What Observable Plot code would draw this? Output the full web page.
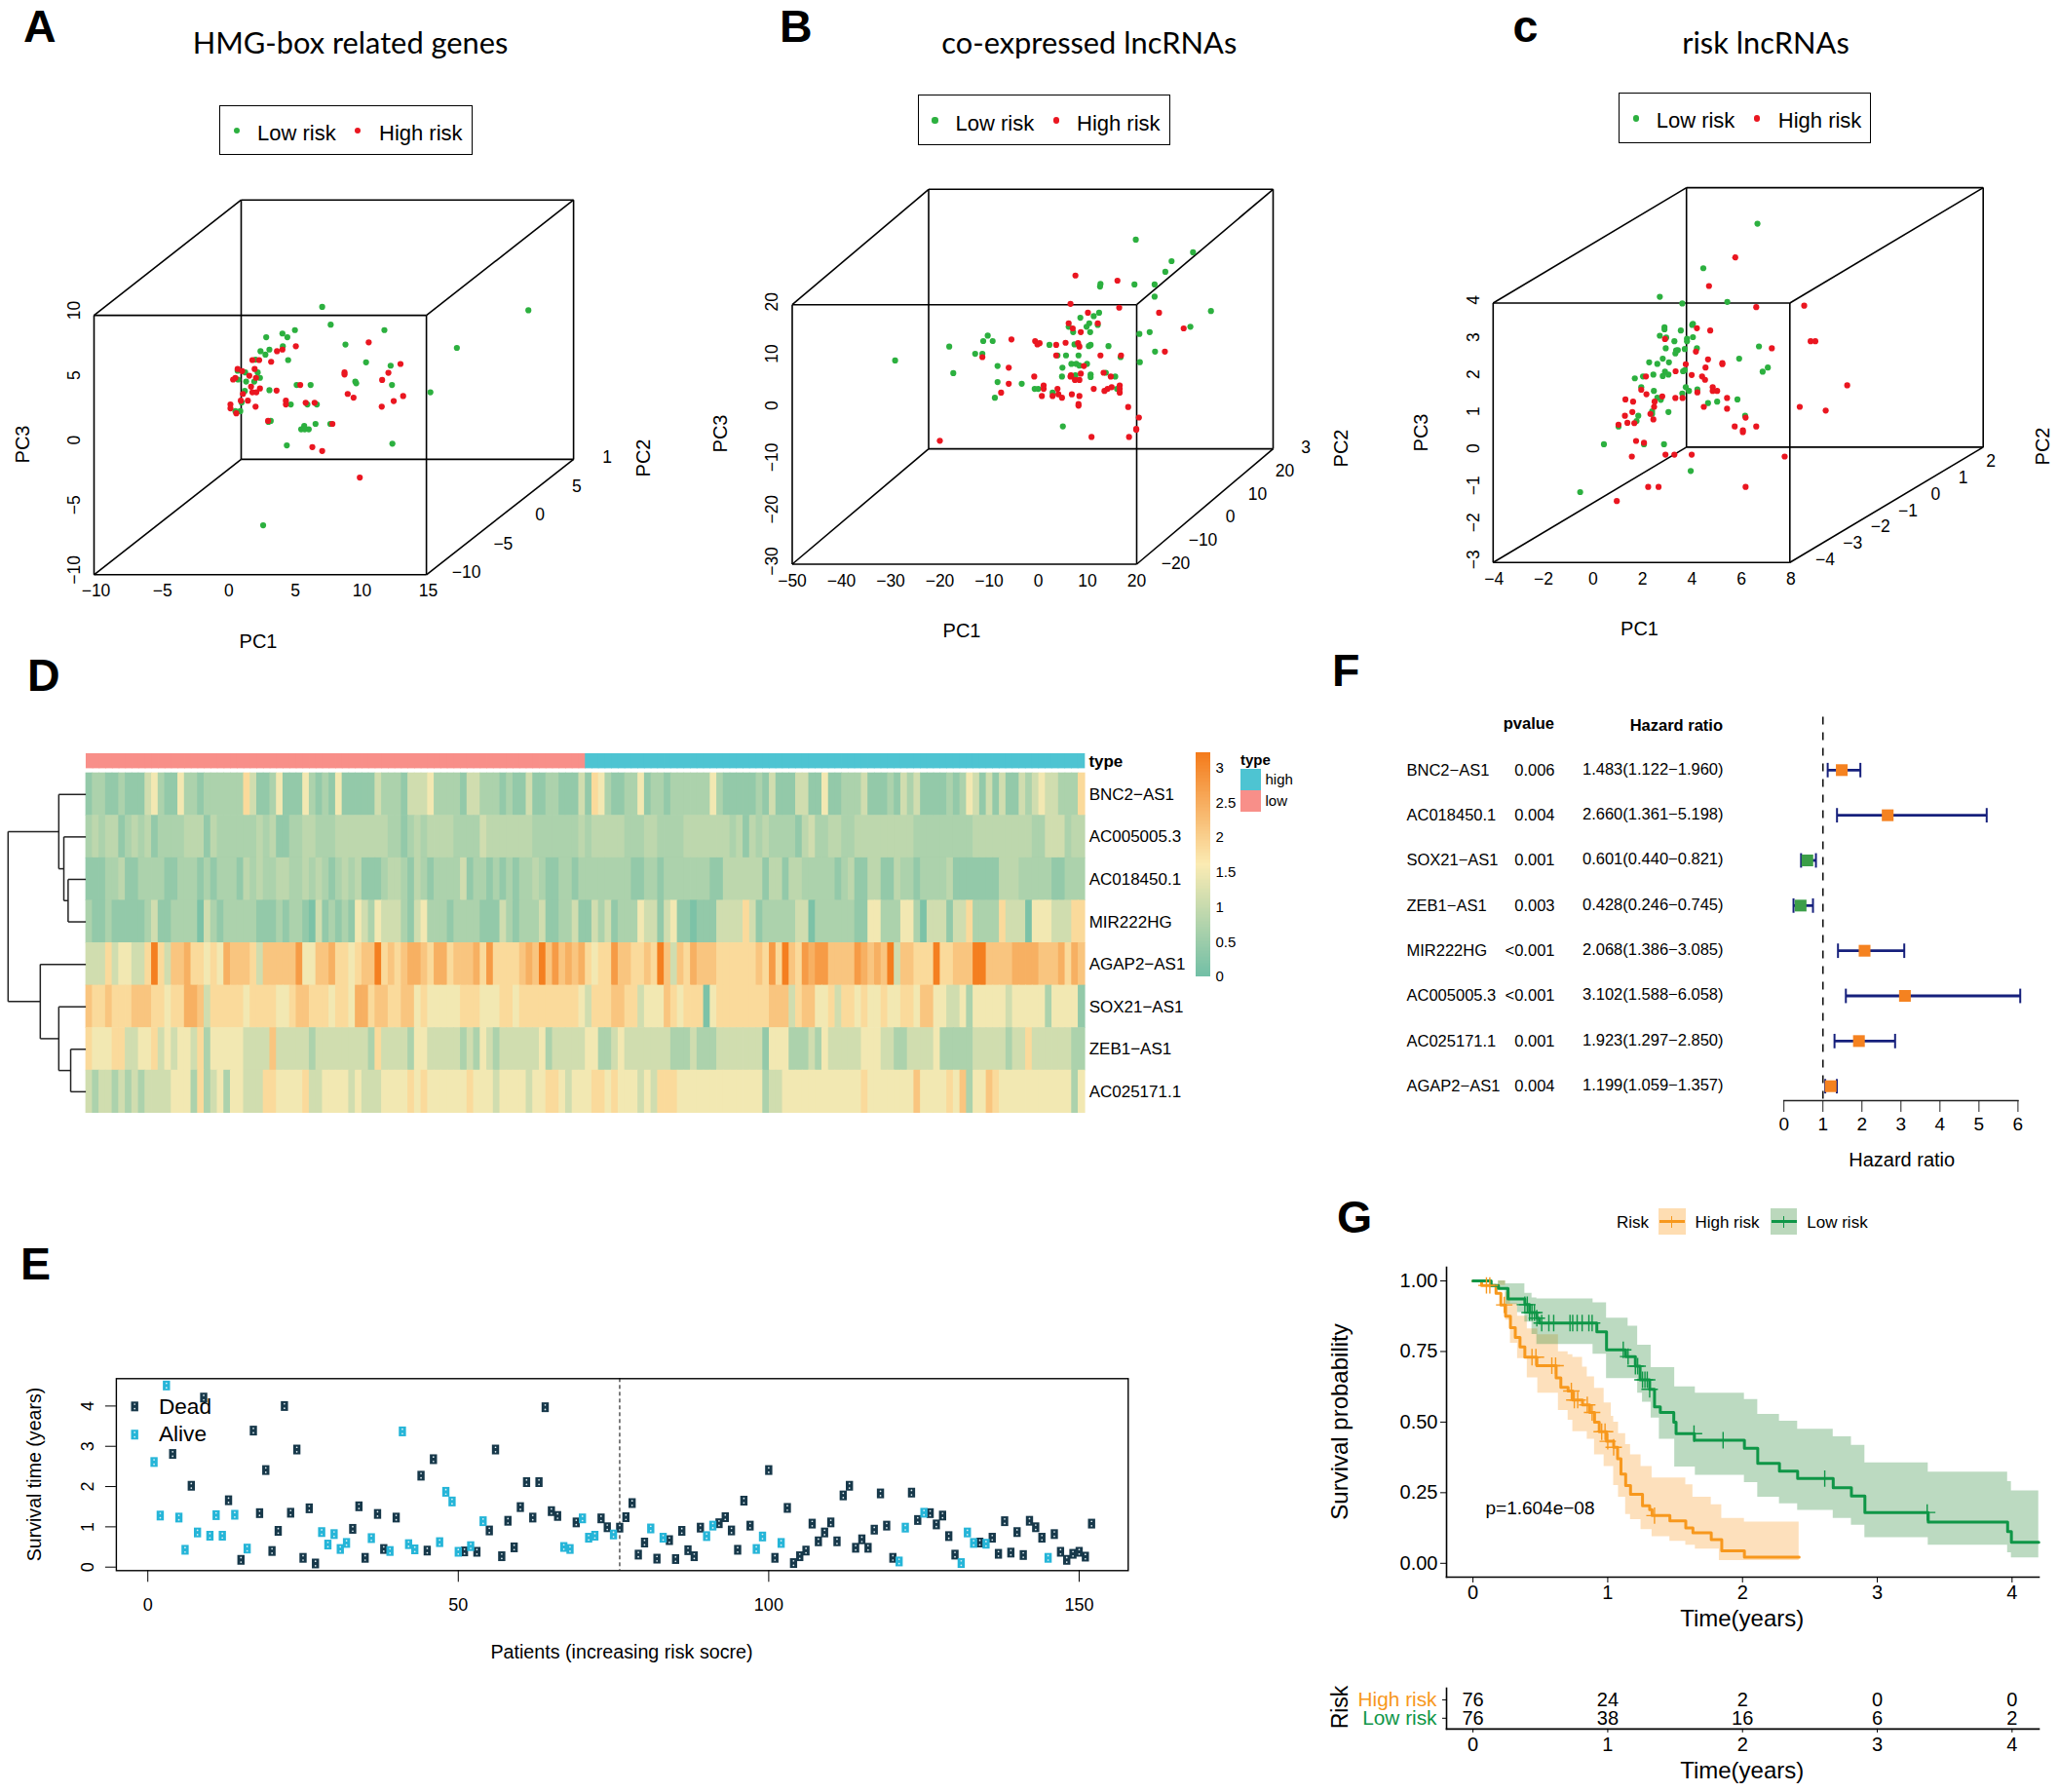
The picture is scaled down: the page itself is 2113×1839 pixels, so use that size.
<!doctype html>
<html><head><meta charset="utf-8">
<script src="https://cdn.jsdelivr.net/npm/d3@7"></script>
<script src="https://cdn.jsdelivr.net/npm/@observablehq/plot@0.6"></script>
<style>
html,body{margin:0;background:#fff}
#page{position:relative;width:2113px;height:1839px;overflow:hidden;font-family:"Liberation Sans",sans-serif;color:#000}
.t{position:absolute;white-space:nowrap;line-height:1}
.box{position:absolute;border:1.6px solid #000;box-sizing:border-box}
.sw{position:absolute}
</style></head><body><div id="page"></div>
<script>
// ---------- DATA: panel A (PC1 / PC3 as projected on the front face) ----------
const aLowPC1=[7.16,7.80,22.67,17.29,5.11,4.17,4.54,2.95,11.84,8.91,4.20,3.19,2.52,2.89,2.15,4.60,10.46,12.31,2.31,1.37,.80,2.48,.83,1.44,2.05,9.65,9.72,12.41,5.24,6.29,3.19,1.34,15.30,1.10,4.80,6.05,6.76,1.00,.63,3.29,3.12,6.66,7.77,5.81,5.58,5.85,6.15,12.44,4.50,2.72];
const aLowPC3=[10.65,9.28,10.39,7.49,8.86,8.60,8.31,8.31,8.86,7.75,7.62,7.36,7.23,6.97,6.58,6.55,6.38,6.12,5.60,5.60,5.73,5.18,5.05,4.89,4.89,4.89,4.76,4.63,4.63,4.63,4.23,4.17,4.07,3.29,3.13,3.13,3.13,2.61,2.61,1.86,1.79,1.63,1.63,1.47,1.21,1.21,1.21,.10,-.03,-6.19];
const aHighPC1=[10.66,5.18,4.17,3.76,1.91,2.42,3.32,13.05,2.08,.80,1.14,8.84,8.84,12.14,1.68,2.18,.63,.46,11.67,5.51,1.81,3.73,1.91,2.21,2.48,9.08,1.20,13.25,9.52,1.04,1.57,4.43,4.43,5.92,6.59,12.54,11.64,2.15,.26,.26,.70,3.09,7.93,6.42,7.16,9.99];
const aHighPC3=[7.92,7.62,7.36,7.23,6.55,6.55,6.42,6.25,5.86,5.86,5.70,5.60,5.44,5.57,5.34,5.18,5.18,5.05,5.02,4.63,4.50,4.20,4.07,4.07,4.36,3.94,3.94,3.78,3.65,3.42,3.42,3.42,3.13,3.26,3.26,3.39,2.96,2.96,3.13,2.83,2.44,1.86,1.63,-.16,-.46,-2.51];
// ---------- panel B ----------
const bLowPC1=[19.82,31.45,27.09,25.82,12.64,12.55,19.55,23.64,23.64,35.09,12.36,8.55,11.27,10.36,9.82,6.18,12.09,7.09,10.55,30.91,22.64,20.55,-10.27,-11.18,-9.27,-18.09,2.27,7.36,10.64,10.27,14.27,23.73,-12.82,-11.36,3.91,5.64,8.18,16.73,20.64,-29.09,6.73,7.73,9.91,8.36,-8.27,4.91,-17.27,13.73,7.55,4.82,7.36,10.64,10.64,15.64,-8.27,-3.36,-.73,0,16,2.91,-8.82,5];
const bLowPC3=[32.54,30.10,28.39,26.35,23.99,23.50,23.91,23.91,21.55,18.78,18.45,17.48,17.80,16.42,15.76,15.76,16.09,14.71,14.71,15.76,14.71,14.38,14.05,13,13,11.94,12.26,12.35,12.26,12.02,12.02,10.96,10.55,10.55,10.23,10.23,10.23,9.90,8.93,9.25,8.60,8.60,8.60,8.27,8.19,7.87,6.81,6.89,6.40,6.16,6.16,6.56,6.07,6.16,5.10,4.77,3.79,3.79,3.79,3.06,2.08,-3.45];
const bHighPC1=[7.55,16.09,6.55,16.45,24.55,10.09,6.18,12.09,7,8.64,29.55,-5.45,-.64,.27,-.18,5.55,3.64,8.09,8.36,25.73,12.64,16.82,3.64,-11.36,9.27,-6,13.27,6.64,8.64,-.82,14.73,6.55,7.45,8.36,-6,1.09,1.09,11.27,16.55,16.55,14.91,14.09,13.45,16.55,3.91,-7.55,.73,2.91,4.09,4.82,6.82,8.36,8.18,8.18,18.27,20.45,19.91,19.91,10.82,18.45,-20];
const bHighPC3=[25.62,24.64,20.16,19.43,18.45,18.45,16.42,16.42,15.44,14.71,15.44,13.32,13,12.59,12.35,12.67,12.26,12.59,11.94,10.96,10.23,10.23,10.23,9.90,8.19,7.87,6.89,6.40,6.73,6.16,6.16,6.16,5.50,5.50,4.77,4.45,3.79,3.79,4.45,3.79,4.12,3.79,3.39,3.06,3.79,3.06,2.41,2.41,2.74,2.08,2.74,2.41,.86,.54,.29,-1.74,-3.94,-4.10,-5.49,-5.49,-6.22];
// ---------- panel C ----------
const cLowPC1=[6.69,4.50,2.74,3.65,5.47,4.08,4.05,2.93,2.93,3.59,2.74,3,4.08,3.84,3.84,3.33,6.75,2.98,4.24,3.75,3.47,3.40,3.37,2.86,5.95,2.31,2.64,3.11,7.11,6.90,3.75,3.68,2.95,2.48,2.06,1.73,2.86,3.09,1.99,3.79,2.50,3.92,4.26,3.65,2.64,2.78,5.88,5.06,4.69,2.43,3.09,2.43,1.87,1.80,6.19,1.07,.48,2.10,2.91,3.99,-.48];
const cLowPC3=[6.14,4.94,4.17,3.99,4.03,3.44,3.41,3.35,3.29,3.26,3.12,3.07,3.08,3.04,2.97,2.97,2.83,2.78,2.78,2.76,2.73,2.72,2.64,2.50,2.50,2.40,2.36,2.40,2.26,2.15,2.19,2.16,2.15,2.07,2.02,1.97,2.03,2.07,1.73,1.73,1.63,1.63,1.67,1.56,1.45,1.39,1.40,1.34,1.30,1.08,1.06,1.01,.96,.82,.96,.67,.19,.19,.19,-.53,-1.10];
const cHighPC1=[5.79,4.73,6.64,8.58,4.24,4.78,8.84,9.03,2.95,7.27,4.20,4.69,3.79,5.27,5.27,4.59,3.38,4.03,4.45,4.57,2.18,4.88,5.06,4.88,10.32,1.99,2.20,4.26,2.84,3.37,3.66,5.46,1.35,1.66,2.53,8.40,4.52,2.51,5.46,9.45,1.63,2.36,1.33,6.21,2.48,1.43,1.71,1.07,5.77,6.64,6.10,6.10,1.78,2.10,2.97,3.33,4.03,1.61,7.79,2.27,2.69,6.21,1];
const cHighPC3=[5.23,4.46,3.89,3.93,3.32,3.26,2.97,2.97,3.03,2.78,2.69,2.48,2.35,2.38,2.35,2.26,2.16,2.06,2.02,1.93,2.02,1.73,1.63,1.63,1.78,1.66,1.54,1.59,1.48,1.44,1.44,1.44,1.40,1.34,1.34,1.20,1.20,1.20,1.15,1.10,1.06,1.01,.96,.91,.86,.77,.76,.72,.67,.67,.57,.52,.28,.23,-.09,-.09,-.09,-.14,-.14,-.96,-.96,-.96,-1.34];
// ---------- panel D: one reading per patient, as a level of the legend ----------
const geneOrder=["BNC2−AS1","AC005005.3","AC018450.1","MIR222HG","AGAP2−AS1","SOX21−AS1","ZEB1−AS1","AC025171.1"];
const levelKeys="0123456789a";
const levelValues=[.12,.38,.68,1.1,1.5,1.85,2.15,2.45,2.75,3.15,.88];
const rowBNC2="1221121113"+"4211422122"+"2222531124"+"1114212141"+"1111322213"+"3342222133"+"2221211311"+"2211131542"+"1122412212"+"2222242111"+"1121311133"+"1141122231"+"1121323111"+"1212431313"+"1132343322"+"25";
const rowAC005="2a2aa12a2a"+"12222aaa1a"+"222222a2a1"+"122aa222aa"+"aaaaaa2212"+"a2aaaa2222"+"3aaaaaaa22"+"22222a2aaa"+"aa222aa222"+"2aaaaaaa2a"+"1a2a22221a"+"322aa22aaa"+"aaaaaa2222"+"22222aaaaa"+"aaaa223332"+"aa";
const rowAC018="11122a1122"+"2211222121"+"2221a2a22a"+"a22a2a212a"+"2a1112aa21"+"a212222312"+"21212122a2"+"1122122222"+"2221122122"+"2222211aaa"+"aaa1aa1aa2"+"222212a11a"+"a11a221222"+"2a1111111a"+"aa22222112"+"22";
const rowMIR="2112111112"+"3112222032"+"1222221112"+"1221031212"+"1432433321"+"3422212222"+"1113212223"+"1122311323"+"1222433134"+"1101113333"+"5312222233"+"0222222114"+"4222442033"+"3133522225"+"3330444333"+"55";
const rowAGAP="3335344335"+"9536675545"+"4766653666"+"6684466755"+"4566956567"+"7657756667"+"5855556769"+"6867675455"+"8665565963"+"6576665555"+"5565859658"+"7886666876"+"7693665559"+"5566699666"+"6777766675"+"76";
const rowSOX="6556555666"+"5545577635"+"5555455554"+"4566555455"+"4775665566"+"4544444555"+"4445545555"+"5555543555"+"6655344465"+"4555045555"+"5555666356"+"6445355454"+"4544554664"+"4334244444"+"3444442444"+"41";
const rowZEB="5444553344"+"5343443524"+"4444333363"+"3333233333"+"3332533332"+"4433333232"+"4323333334"+"2333334422"+"3433333332"+"2232223333"+"3331444222"+"3243333344"+"4332233334"+"2222233333"+"2335333333"+"22";
const rowAC025="3233232323"+"3334442523"+"4244333554"+"4445334444"+"3433344445"+"4544444454"+"4434444344"+"5543444554"+"5444343555"+"4444444444"+"4442334444"+"4444444454"+"4444446444"+"4546244654"+"4444444444"+"24";
const heatRows=[rowBNC2,rowAC005,rowAC018,rowMIR,rowAGAP,rowSOX,rowZEB,rowAC025];
const patientsPerGroup=76;
const colorbarTicks=[0,.5,1,1.5,2,2.5,3];
const dendroMergeH=[2.28,2.83,3.48,1.95,3.48,5.86,10];
const dendroMergeA=[2.5,1.5,.5,6.5,5.5,4.5,1.375];
const dendroMergeB=[3.5,3,2.25,7.5,7,6.25,5.375];
const dendroChildA=[0,0,0,0,0,0,3.48];
const dendroChildB=[0,2.28,2.83,0,1.95,3.48,5.86];
// ---------- panel E ----------
const survivalYears=[2.61,1.28,4.51,2.81,1.23,.43,2.02,.86,4.21,.78,1.29,.78,1.66,1.30,.18,.46,3.39,1.34,2.41,.40,.90,4.00,1.35,2.92,.23,1.46,.09,.87,.56,.82,.45,.60,.95,1.51,.23,.72,1.32,.45,.40,1.23,3.37,.57,.44,2.27,.41,2.68,.62,1.87,1.63,.38,.39,.52,.38,1.14,.91,2.92,.27,1.15,.49,1.49,2.11,1.23,2.11,3.97,1.39,1.27,.50,.45,1.11,1.21,.73,.78,1.21,.99,.81,.98,1.24,1.59,.31,.61,.96,.21,.73,.67,.20,.90,.42,.27,.98,.77,1.03,1.09,1.24,.91,.43,1.65,1.03,.45,.76,2.41,.23,.60,1.47,.10,.27,.41,1.08,.64,.86,1.11,.64,1.78,2.02,.48,.69,.48,.93,1.83,1.03,.23,.14,.98,1.85,1.17,1.35,1.34,1.06,1.28,.77,.31,.10,.86,.60,.61,.58,.73,.33,1.14,.36,.87,.30,1.15,.99,.73,.23,.82,.38,.18,.33,.38,.26,1.08];
const alivePatients=[1,2,3,5,6,8,10,11,12,14,16,28,29,30,31,32,36,39,41,42,43,47,48,49,50,52,54,67,68,70,71,72,75,81,83,90,91,98,99,102,121,122,125,131,132,133,135,145];
// ---------- panel F ----------
const fGenes=["BNC2−AS1","AC018450.1","SOX21−AS1","ZEB1−AS1","MIR222HG","AC005005.3","AC025171.1","AGAP2−AS1"];
const fP=["0.006","0.004","0.001","0.003","<0.001","<0.001","0.001","0.004"];
const fHR=[1.483,2.660,.601,.428,2.068,3.102,1.923,1.199];
const fLo=[1.122,1.361,.440,.246,1.386,1.588,1.297,1.059];
const fHi=[1.960,5.198,.821,.745,3.085,6.058,2.850,1.357];
// ---------- panel G ----------
const highT=[0,.064,.171,.207,.242,.278,.314,.349,.385,.42,.474,.617,.652,.706,.741,.813,.866,.902,.937,.991,1.044,1.073,1.098,1.133,1.169,1.258,1.311,1.329,1.461,1.579,1.632,1.768,1.846,2.014,2.42];
const highS=[1,.984,.956,.915,.875,.834,.80,.766,.73,.73,.70,.657,.623,.61,.578,.561,.534,.50,.466,.432,.411,.37,.316,.275,.244,.204,.19,.169,.15,.125,.108,.084,.044,.022,.022];
const lowT=[0,.135,.189,.26,.385,.42,.474,.492,.919,.991,1.133,1.205,1.24,1.311,1.347,1.39,1.49,1.507,1.643,2.014,2.113,2.274,2.409,2.673,2.808,2.908,3.378,3.967,3.995,4.198];
const lowS=[1,.984,.973,.936,.916,.888,.868,.851,.82,.756,.732,.698,.65,.616,.554,.534,.50,.459,.436,.407,.354,.326,.30,.268,.238,.18,.146,.112,.074,.074];
const highBandT=[0,.189,.242,.278,.331,.403,.481,.634,.706,.741,.813,.848,.902,.973,1.026,1.044,1.08,1.133,1.169,1.247,1.329,1.461,1.579,1.632,1.65,1.768,1.828,1.846,2.014,2.42];
const highBandUp=[1,1,.96,.92,.875,.83,.809,.749,.739,.729,.695,.66,.62,.568,.52,.5,.459,.42,.384,.343,.302,.302,.278,.234,.234,.207,.207,.159,.146,.146];
const highBandLo=[1,.984,.861,.779,.725,.657,.602,.541,.507,.466,.466,.439,.384,.343,.343,.275,.234,.173,.155,.119,.094,.078,.064,.064,.05,.05,.01,.01,.01,.01];
const lowBandT=[0,.189,.242,.331,.385,.438,.474,.891,.991,1.151,1.222,1.258,1.322,1.383,1.497,1.65,2.014,2.113,2.274,2.409,2.673,2.808,2.908,3.378,3.967,3.995,4.198];
const lowBandUp=[1,1,.99,.99,.956,.94,.936,.922,.868,.84,.772,.772,.693,.693,.625,.602,.58,.527,.503,.475,.448,.418,.356,.323,.289,.256,.256];
const lowBandLo=[1,.97,.916,.888,.854,.81,.775,.74,.654,.654,.602,.57,.514,.439,.341,.312,.286,.234,.211,.187,.159,.135,.091,.064,.037,.019,.019];
const highCensor=[.1,.125,.232,.438,.467,.585,.613,.73,.752,.777,.848,.884,.955,.98,1,1.044,1.347];
const lowCensor=[.385,.403,.42,.438,.456,.474,.51,.563,.599,.72,.74,.773,.81,.86,.884,1.115,1.151,1.205,1.222,1.258,1.276,1.293,1.311,1.64,1.856,2.61,3.37];
const riskTimes=[0,1,2,3,4];
const riskHigh=[76,24,2,0,0];
const riskLow=[76,38,16,6,2];

// ---------- layout helpers ----------
const page=document.getElementById("page");
const FONT='"Liberation Sans"';
const GREEN="#2CB03F",RED="#EA1620",KM_HIGH="#F7981D",KM_LOW="#0F9647";
function place(fig,L,T){fig.style.position="absolute";fig.style.left=L+"px";fig.style.top=T+"px";fig.style.background="transparent";fig.style.overflow="visible";fig.style.maxWidth="none";page.appendChild(fig);return fig;}
function label(text,x,y,o={}){const d=document.createElement("div");d.className="t";d.textContent=text;
 const a=o.anchor||"middle",tx=a==="start"?"0":a==="end"?"-100%":"-50%";
 d.style.left=x+"px";d.style.top=y+"px";d.style.transform=`translate(${tx},-50%)`+(o.rotate?` rotate(${o.rotate}deg)`:"");
 d.style.fontSize=(o.size||18)+"px";d.style.fontFamily=o.font||FONT;if(o.weight)d.style.fontWeight=o.weight;if(o.color)d.style.color=o.color;
 page.appendChild(d);return d;}
function rectDiv(cls,x,y,w,h,bg){const d=document.createElement("div");d.className=cls;d.style.cssText+=`left:${x}px;top:${y}px;width:${w}px;height:${h}px;`+(bg?`background:${bg};`:"");page.appendChild(d);return d;}
function letter(c,x,base){label(c,x,base-16,{size:46.5,weight:"bold",anchor:"start"});}
const minus=d=>String(d).replace("-","−");

function scatter3d(c){
 const {L,T,W,H,fx,fy,bx,by,pc1,pc3}=c;
 const spanX=pc1[1]-pc1[0],spanY=pc3[1]-pc3[0];
 const depthX=(bx[0]-fx[0])/(fx[1]-fx[0])*spanX, depthY=(fy[1]-by[1])/(fy[1]-fy[0])*spanY;
 const a=pc1[0],b=pc1[1],p=pc3[0],q=pc3[1],dX=depthX,dY=depthY;
 const edges=[[a,p,b,p],[b,p,b,q],[b,q,a,q],[a,q,a,p],
  [a+dX,p+dY,b+dX,p+dY],[b+dX,p+dY,b+dX,q+dY],[b+dX,q+dY,a+dX,q+dY],[a+dX,q+dY,a+dX,p+dY],
  [a,p,a+dX,p+dY],[b,p,b+dX,p+dY],[b,q,b+dX,q+dY],[a,q,a+dX,q+dY]];
 const low=c.lowX.map((x,i)=>({x,y:c.lowY[i]})),high=c.highX.map((x,i)=>({x,y:c.highY[i]}));
 const f2=v=>(v-c.pc2[0])/(c.pc2[1]-c.pc2[0]);
 const tickFont=17.5;
 const marks=[
   Plot.link(edges,{x1:d=>d[0],y1:d=>d[1],x2:d=>d[2],y2:d=>d[3],stroke:"#000",strokeWidth:1.6}),
   Plot.dot(low,{x:"x",y:"y",r:3.1,fill:GREEN}),
   Plot.dot(high,{x:"x",y:"y",r:3.1,fill:RED}),
   Plot.text(c.pc1Ticks,{x:d=>d,y:()=>p,dy:c.dyPc1,dx:c.dxPc1,text:minus,fontSize:tickFont}),
   Plot.text(c.pc3Ticks,{x:()=>a,y:d=>d,dx:c.dxPc3,dy:c.dyPc3,text:minus,rotate:-90,fontSize:tickFont}),
   Plot.text(c.pc2Ticks,{x:d=>b+f2(d)*dX,y:d=>p+f2(d)*dY,dx:c.dxPc2,dy:c.dyPc2,text:minus,fontSize:tickFont})];
 if(c.pc2Clipped) marks.push(Plot.text([c.pc2Clipped[0]],{x:d=>b+f2(d)*dX,y:d=>p+f2(d)*dY,dx:c.dxPc2-6.5,dy:c.dyPc2,text:()=>c.pc2Clipped[1],fontSize:tickFont}));
 const fig=Plot.plot({width:W,height:H,marginTop:0,marginBottom:0,marginLeft:0,marginRight:0,
  style:{fontFamily:FONT,background:"transparent"},
  x:{domain:pc1,range:[fx[0]-L,fx[1]-L],axis:null},
  y:{domain:pc3,range:[fy[1]-T,fy[0]-T],axis:null},
  marks});
 place(fig,L,T);
 label(c.title,c.titleAt[0],c.titleAt[1],{size:30.8,font:'Lato'});
 rectDiv("box",c.legend[0],c.legend[1],c.legend[2],c.legend[3]);
 const ly=c.legendY;
 rectDiv("sw",c.legendPts[0]-3.2,ly-3.2,6.4,6.4,GREEN).style.borderRadius="50%";
 rectDiv("sw",c.legendPts[2]-3.2,ly-3.2,6.4,6.4,RED).style.borderRadius="50%";
 label("Low risk",c.legendPts[1],ly+3,{size:22,anchor:"start"});
 label("High risk",c.legendPts[3],ly+3,{size:22,anchor:"start"});
 label("PC1",c.pc1At[0],c.pc1At[1],{size:20});
 label("PC3",c.pc3At[0],c.pc3At[1],{size:20,rotate:-90});
 label("PC2",c.pc2At[0],c.pc2At[1],{size:20,rotate:-90});
}

scatter3d({L:0,T:180,W:720,H:480,fx:[96,437.1],fy:[323.1,589.3],bx:[247,590],by:[204.7,470.9],
 pc1:[-10,15],pc3:[-10,10],pc2:[-10,10],lowX:aLowPC1,lowY:aLowPC3,highX:aHighPC1,highY:aHighPC3,
 pc1Ticks:[-10,-5,0,5,10,15],pc3Ticks:[-10,-5,0,5,10],pc2Ticks:[-10,-5,0,5],pc2Clipped:[10,"1"],
 dxPc1:2,dyPc1:17,dxPc3:-20,dyPc3:-5,dxPc2:41,dyPc2:-2,
 title:"HMG-box related genes",titleAt:[359.5,44],legend:[225,108,259.5,51],legendY:134,legendPts:[243,264,367,389],
 pc1At:[265,658],pc3At:[23,456],pc2At:[660,470]});
scatter3d({L:720,T:170,W:720,H:480,fx:[812.5,1166],fy:[312.2,578.5],bx:[952.5,1306.5],by:[194.3,460.1],
 pc1:[-50,20],pc3:[-30,20],pc2:[-20,30],lowX:bLowPC1,lowY:bLowPC3,highX:bHighPC1,highY:bHighPC3,
 pc1Ticks:[-50,-40,-30,-20,-10,0,10,20],pc3Ticks:[-30,-20,-10,0,10,20],pc2Ticks:[-20,-10,0,10,20],pc2Clipped:[30,"3"],
 dxPc1:0,dyPc1:17.5,dxPc3:-20.7,dyPc3:-3,dxPc2:40,dyPc2:-1,
 title:"co-expressed lncRNAs",titleAt:[1117.8,44],legend:[941.5,97,259.5,51.7],legendY:123.6,legendPts:[959.4,980.5,1084.3,1105],
 pc1At:[987,647],pc3At:[739,445],pc2At:[1376,460]});
scatter3d({L:1440,T:170,W:673,H:480,fx:[1531.8,1836.3],fy:[310.5,576.8],bx:[1730.2,2034.7],by:[192.1,458.4],
 pc1:[-4,8],pc3:[-3,4],pc2:[-4,3],lowX:cLowPC1,lowY:cLowPC3,highX:cHighPC1,highY:cHighPC3,
 pc1Ticks:[-4,-2,0,2,4,6,8],pc3Ticks:[-3,-2,-1,0,1,2,3,4],pc2Ticks:[-4,-3,-2,-1,0,1,2],pc2Clipped:null,
 dxPc1:1,dyPc1:17,dxPc3:-19.8,dyPc3:-3,dxPc2:36.2,dyPc2:-2.6,
 title:"risk lncRNAs",titleAt:[1812,44],legend:[1660.8,95.4,259.4,51.6],legendY:121.4,legendPts:[1679,1699.7,1803,1824.8],
 pc1At:[1682.5,645],pc3At:[1458.4,443.6],pc2At:[2096,457.5]});

letter("A",24,42.5);letter("B",800,42.5);letter("c",1552.6,42.5);
letter("D",28,709);letter("E",21,1313);letter("F",1367,704);letter("G",1372,1265);

// ---------- D: heat map ----------
const heatColor={type:"linear",domain:[0,1.6,3.2],range:["#72BFA6","#FBEBB3","#F47B1B"],interpolate:"rgb"};
const cells=heatRows.flatMap((s,r)=>Array.from(s,(ch,i)=>({i,gene:geneOrder[r],v:levelValues[levelKeys.indexOf(ch)]})));
const patientIdx=d3.range(heatRows[0].length);
place(Plot.plot({width:1145,height:348.7,marginTop:0,marginBottom:0,marginLeft:0,marginRight:119.8,
 style:{fontFamily:FONT,background:"transparent"},
 x:{type:"band",domain:patientIdx,padding:0,round:false,axis:null},y:{type:"band",domain:geneOrder,padding:0,round:false},
 color:heatColor,
 marks:[Plot.cell(cells,{x:"i",y:"gene",fill:"v",insetLeft:-.4,insetRight:-.4,insetTop:-.3,insetBottom:-.3}),
  Plot.axisY({anchor:"right",tickSize:0,tickPadding:4,fontSize:17,label:null})]}),87.6,793.3);
const groups=patientIdx.map(i=>({i,type:i<patientsPerGroup?"low":"high"}));
place(Plot.plot({width:1145,height:15.4,marginTop:0,marginBottom:0,marginLeft:0,marginRight:119.8,
 style:{fontFamily:FONT,background:"transparent"},
 x:{type:"band",domain:patientIdx,padding:0,round:false,axis:null},y:{type:"band",domain:["type"],padding:0,round:false},
 color:{domain:["low","high"],range:["#F88F89","#4EC4D2"]},
 marks:[Plot.cell(groups,{x:"i",y:()=>"type",fill:"type",insetLeft:-.4,insetRight:-.4}),
  Plot.axisY({anchor:"right",tickSize:0,tickPadding:4,fontSize:17,fontWeight:"bold",label:null})]}),87.6,773.3);
// colour bar
const barMax=3.22,barSteps=d3.range(0,barMax,.02);
place(Plot.plot({width:60,height:230,marginTop:0,marginBottom:0,marginLeft:0,marginRight:45,
 style:{fontFamily:FONT,background:"transparent"},
 x:{domain:[0,1],axis:null},y:{domain:[0,barMax]},color:heatColor,
 marks:[Plot.rect(barSteps,{x1:()=>0,x2:()=>1,y1:d=>d,y2:d=>d+.021,fill:d=>d,shapeRendering:"crispEdges"}),
  Plot.axisY({anchor:"right",ticks:colorbarTicks,tickFormat:d=>String(d),tickSize:0,tickPadding:5,fontSize:15,label:null})]}),1227,771.7);
// annotation legend
label("type",1273,778.7,{size:15,weight:"bold",anchor:"start"});
place(Plot.plot({width:70,height:44,marginTop:0,marginBottom:0,marginLeft:0,marginRight:49,
 style:{fontFamily:FONT,background:"transparent"},
 x:{domain:[0,1],axis:null},y:{type:"band",domain:["high","low"],padding:0,round:false},
 color:{domain:["low","high"],range:["#F88F89","#4EC4D2"]},
 marks:[Plot.cell(["high","low"],{y:d=>d,fill:d=>d}),
  Plot.axisY({anchor:"right",tickSize:0,tickPadding:4,fontSize:15,label:null})]}),1273,788.7);
// dendrogram
const dSegs=dendroMergeH.flatMap((h,i)=>[
 {x1:h,x2:h,y1:dendroMergeA[i],y2:dendroMergeB[i]},
 {x1:dendroChildA[i],x2:h,y1:dendroMergeA[i],y2:dendroMergeA[i]},
 {x1:dendroChildB[i],x2:h,y1:dendroMergeB[i],y2:dendroMergeB[i]}]);
place(Plot.plot({width:87.6,height:348.7,marginTop:0,marginBottom:0,marginLeft:0,marginRight:0,
 style:{background:"transparent"},
 x:{domain:[10,0],range:[7.8,87.6],axis:null},y:{domain:[0,8],reverse:true,axis:null},
 marks:[Plot.link(dSegs,{x1:"x1",x2:"x2",y1:"y1",y2:"y2",stroke:"#222",strokeWidth:1.5})]}),0,793.3);

// ---------- E ----------
const patients=survivalYears.map((y,i)=>({k:i+1,y,alive:alivePatients.includes(i+1)}));
const DEAD="#17384A",ALIVE="#25B5D8";
const tallBox={draw(ctx){ctx.moveTo(-3.7,-5);ctx.lineTo(3.7,-5);ctx.lineTo(3.7,5);ctx.lineTo(-3.7,5);ctx.closePath();}};
const marker=(data,color)=>[Plot.dot(data,{x:"k",y:"y",symbol:tallBox,fill:color}),
  Plot.dot(data,{x:"k",y:"y",r:.85,dy:-2.3,fill:"#e4f2f6"}),
  Plot.dot(data,{x:"k",y:"y",r:.85,dy:2.3,fill:"#e4f2f6"})];
const legendE=[{k:-2.12,y:3.99,name:"Dead",c:DEAD},{k:-2.12,y:3.29,name:"Alive",c:ALIVE}];
place(Plot.plot({width:1180,height:320,marginTop:14.3,marginBottom:108.7,marginLeft:118.9,marginRight:22.7,
 style:{fontFamily:FONT,background:"transparent"},
 x:{domain:[-5.07,157.9]},y:{domain:[-.087,4.68]},
 marks:[
  Plot.frame({stroke:"#000",strokeWidth:1.4}),
  Plot.axisX({ticks:[0,50,100,150],tickSize:12,tickPadding:16,fontSize:18,label:null,tickFormat:d=>String(d)}),
  Plot.axisY({ticks:[0,1,2,3,4],tickSize:11,tickPadding:12,fontSize:18,tickRotate:-90,label:null,tickFormat:d=>String(d),textAnchor:"middle"}),
  Plot.ruleX([76],{stroke:"#000",strokeWidth:1,strokeDasharray:"4,3"}),
  ...marker(patients.filter(d=>!d.alive),DEAD),
  ...marker(patients.filter(d=>d.alive),ALIVE),
  ...marker(legendE.slice(0,1),DEAD),...marker(legendE.slice(1),ALIVE),
  Plot.text(legendE,{x:d=>1.77,y:"y",text:"name",textAnchor:"start",fontSize:22.6})
 ]}),0,1400);
label("Survival time (years)",36,1513,{size:19.6,rotate:-90});
label("Patients (increasing risk socre)",638,1695.7,{size:19.7});

// ---------- F ----------
const fRows=fGenes.map((g,i)=>({i,g,p:fP[i],hr:fHR[i],lo:fLo[i],hi:fHi[i],txt:`${fHR[i].toFixed(3)}(${fLo[i].toFixed(3)}−${fHi[i].toFixed(3)})`}));
const NAVY="#16207C";
const capH=.16;
place(Plot.plot({width:680,height:480,marginLeft:400.2,marginRight:2110-2070.4,marginTop:735.4-720,marginBottom:480-(1129-720),
 style:{fontFamily:FONT,background:"transparent"},
 x:{domain:[0,6]},y:{domain:[0,7],range:[789.8-720,1114.2-720],axis:null},
 marks:[
  Plot.frame({anchor:"bottom",stroke:"#222",strokeWidth:1.5}),
  Plot.axisX({ticks:[0,1,2,3,4,5,6],tickSize:12,tickPadding:5,fontSize:19,label:null,tickFormat:d=>String(d),stroke:"#222"}),
  Plot.ruleX([1],{stroke:"#111",strokeWidth:1.6,strokeDasharray:"8,8"}),
  Plot.link(fRows,{x1:"lo",x2:"hi",y1:"i",y2:"i",stroke:NAVY,strokeWidth:2.8}),
  Plot.link(fRows,{x1:"lo",x2:"lo",y1:d=>d.i-capH,y2:d=>d.i+capH,stroke:NAVY,strokeWidth:2}),
  Plot.link(fRows,{x1:"hi",x2:"hi",y1:d=>d.i-capH,y2:d=>d.i+capH,stroke:NAVY,strokeWidth:2}),
  Plot.dot(fRows.filter(d=>d.hr>1),{x:"hr",y:"i",symbol:"square",r:6.8,fill:"#F58220"}),
  Plot.dot(fRows.filter(d=>d.hr<=1),{x:"hr",y:"i",symbol:"square",r:6.8,fill:"#3B9E48"}),
  Plot.text(fRows,{y:"i",text:"g",frameAnchor:"left",dx:1443-1830.2,textAnchor:"start",fontSize:16.5}),
  Plot.text(fRows,{y:"i",text:"p",frameAnchor:"left",dx:1595-1830.2,textAnchor:"end",fontSize:16.5}),
  Plot.text(fRows,{y:"i",text:"txt",dy:-1,frameAnchor:"left",dx:1768-1830.2,textAnchor:"end",fontSize:16.5})
 ]}),1430,720);
label("pvalue",1595,742.3,{size:16.5,weight:"bold",anchor:"end"});
label("Hazard ratio",1768,744,{size:16.5,weight:"bold",anchor:"end"});
label("Hazard ratio",1951.7,1190,{size:20});

// ---------- G ----------
const lookup=(ts,ss,t)=>ss[Math.max(0,d3.bisectRight(ts,t)-1)];
const tab=(t,a,b)=>t.map((x,i)=>({x,a:a[i],b:b?b[i]:undefined}));
const km=(t,s,c)=>[
  Plot.line(tab(t,s),{x:"x",y:"a",curve:"step-after",stroke:c,strokeWidth:3}),
];
const band=(t,u,l,c,op)=>Plot.areaY(tab(t,u,l),{x:"x",y1:"b",y2:"a",curve:"step-after",fill:c,fillOpacity:op});
const cens=(ts,t,s,c)=>Plot.dot(ts,{x:d=>d,y:d=>lookup(t,s,d),symbol:"plus",r:5.5,stroke:c,strokeWidth:1.4});
place(Plot.plot({width:773,height:400,marginLeft:144,marginRight:21,marginTop:15.1,marginBottom:67,
 style:{fontFamily:FONT,background:"transparent"},
 x:{domain:[-.196,4.2]},y:{domain:[-.049,1.048]},
 marks:[
  band(highBandT,highBandUp,highBandLo,"#F9A030",.32),
  band(lowBandT,lowBandUp,lowBandLo,"#2E8B3E",.32),
  ...km(highT,highS,KM_HIGH),...km(lowT,lowS,KM_LOW),
  cens(highCensor,highT,highS,KM_HIGH),cens(lowCensor,lowT,lowS,KM_LOW),
  Plot.frame({anchor:"left",stroke:"#000",strokeWidth:1.6}),
  Plot.frame({anchor:"bottom",stroke:"#000",strokeWidth:1.6}),
  Plot.axisX({ticks:riskTimes,tickSize:6,tickPadding:2,fontSize:20,label:null,tickFormat:d=>String(d)}),
  Plot.axisY({ticks:[0,.25,.5,.75,1],tickSize:6,tickPadding:3,fontSize:20,label:null,tickFormat:d3.format(".2f")}),
  Plot.text(["p=1.604e−08"],{x:()=>.093,y:()=>.196,text:d=>d,textAnchor:"start",fontSize:19})
 ]}),1340,1285);
label("Survival probability",1374.5,1458.8,{size:24,rotate:-90});
label("Time(years)",1787.7,1661.4,{size:24});
// legend
label("Risk",1659,1254,{size:17,anchor:"start"});
rectDiv("sw",1702,1239.7,27.5,27.7,"#FEDDB2");
rectDiv("sw",1816.8,1239.7,27.6,27.7,"#BBD8BC");
rectDiv("sw",1703,1252.3,25.5,2.8,KM_HIGH);rectDiv("sw",1714.5,1247.5,1.6,12,KM_HIGH);
rectDiv("sw",1818,1252.3,25.5,2.8,KM_LOW);rectDiv("sw",1829.5,1247.5,1.6,12,KM_LOW);
label("High risk",1739.4,1254,{size:17,anchor:"start"});
label("Low risk",1854.3,1254,{size:17,anchor:"start"});
// risk table
const riskRows=riskTimes.flatMap((t,i)=>[{t,g:"High risk",n:riskHigh[i]},{t,g:"Low risk",n:riskLow[i]}]);
place(Plot.plot({width:773,height:75,marginLeft:144,marginRight:21,marginTop:7,marginBottom:26.1,
 style:{fontFamily:FONT,background:"transparent"},
 x:{domain:[-.196,4.2]},y:{type:"point",domain:["High risk","Low risk"],padding:0,round:false,range:[18.9,37.8]},
 marks:[
  Plot.frame({anchor:"left",stroke:"#000",strokeWidth:1.6}),
  Plot.frame({anchor:"bottom",stroke:"#000",strokeWidth:1.6}),
  Plot.axisX({ticks:riskTimes,tickSize:4,tickPadding:4,fontSize:20,label:null,tickFormat:d=>String(d)}),
  Plot.axisY({tickSize:4,tickFormat:()=>"",label:null}),
  Plot.text(riskRows,{x:"t",y:"g",text:"n",fontSize:20}),
  Plot.text(["High risk"],{y:d=>d,frameAnchor:"left",dx:-10,textAnchor:"end",fontSize:20.8,fill:KM_HIGH,text:d=>d}),
  Plot.text(["Low risk"],{y:d=>d,frameAnchor:"left",dx:-10,textAnchor:"end",fontSize:20.8,fill:KM_LOW,text:d=>d})
 ]}),1340,1725);
label("Risk",1374.5,1752,{size:23,rotate:-90});
label("Time(years)",1787.7,1817.3,{size:24});
</script></body></html>
